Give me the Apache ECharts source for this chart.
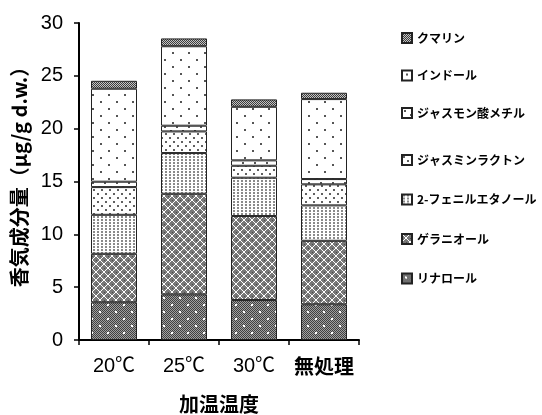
<!DOCTYPE html>
<html>
<head>
<meta charset="utf-8">
<script src="https://cdn.jsdelivr.net/npm/echarts@6/dist/echarts.min.js"></script>
<style>
html,body{margin:0;padding:0;background:#fff;}
#chart{width:542px;height:415px;}
</style>
</head>
<body>
<div id="chart"></div>
<script>
// ---- data ----
const categories = ['20℃', '25℃', '30℃', '無処理'];
const yTicks = [0, 5, 10, 15, 20, 25, 30];
const linalool        = [3.57, 4.32, 3.78, 3.38];   // リナロール
const geraniol        = [4.59, 9.52, 7.95, 6.01];   // ゲラニオール
const phenylethanol   = [3.69, 3.85, 3.63, 3.35];   // 2-フェニルエタノール
const jasmineLactone  = [2.62, 2.05, 1.13, 1.99];   // ジャスミンラクトン
const methylJasmonate = [0.51, 0.54, 0.51, 0.50];   // ジャスモン酸メチル
const indole          = [8.80, 7.52, 5.07, 7.57];   // インドール
const coumarin        = [0.75, 0.74, 0.70, 0.60];   // クマリン
const seriesNames = ['リナロール', 'ゲラニオール', '2-フェニルエタノール', 'ジャスミンラクトン', 'ジャスモン酸メチル', 'インドール', 'クマリン'];
const seriesData = [linalool, geraniol, phenylethanol, jasmineLactone, methylJasmonate, indole, coumarin];
const xTitle = '加温温度';
const yTitle = '香気成分量（μg/g d.w.）';

// ---- patterns ----
function tile(w, h, bg, draw) {
  const c = document.createElement('canvas');
  c.width = w; c.height = h;
  const ctx = c.getContext('2d');
  ctx.fillStyle = bg; ctx.fillRect(0, 0, w, h);
  draw(ctx);
  return { image: c, repeat: 'repeat' };
}
const patterns = [
  // linalool: dark dither with white dots
  tile(16, 14, '#a0a0a0', ctx => {
    ctx.fillStyle = '#404040';
    for (let y = 0; y < 14; y++) for (let x = 0; x < 16; x++) if ((x + y) % 2 === 0) ctx.fillRect(x, y, 1, 1);
    ctx.fillStyle = '#ffffff';
    ctx.fillRect(3, 3, 2, 2); ctx.fillRect(11, 10, 2, 2);
  }),
  // geraniol: crosshatch lattice
  tile(8, 8, '#787878', ctx => {
    ctx.fillStyle = '#ffffff';
    for (let i = 0; i < 8; i++) { ctx.fillRect(i, i, 1, 1); ctx.fillRect(7 - i, i, 1, 1); }
    ctx.fillStyle = '#4a4a4a';
    ctx.fillRect(0, 4, 1, 1); ctx.fillRect(4, 0, 1, 1);
  }),
  // 2-phenylethanol: fine stipple columns
  tile(4, 3, '#ffffff', ctx => {
    ctx.fillStyle = '#8a8a8a';
    ctx.fillRect(1, 0, 2, 2);
  }),
  // jasmine lactone: dense dots
  tile(8, 8, '#ffffff', ctx => {
    ctx.fillStyle = '#606060';
    ctx.fillRect(1, 1, 2, 2); ctx.fillRect(5, 5, 2, 2);
  }),
  // methyl jasmonate: sparse dots
  tile(12, 8, '#ffffff', ctx => {
    ctx.fillStyle = '#555555';
    ctx.fillRect(2, 2, 2, 2); ctx.fillRect(8, 6, 2, 2);
  }),
  // indole: sparse dots
  tile(16, 14, '#ffffff', ctx => {
    ctx.fillStyle = '#555555';
    ctx.fillRect(4, 3, 2, 2); ctx.fillRect(12, 10, 2, 2);
  }),
  // coumarin: dark dither
  tile(2, 2, '#c4c4c4', ctx => {
    ctx.fillStyle = '#3c3c3c';
    ctx.fillRect(0, 0, 1, 1); ctx.fillRect(1, 1, 1, 1);
  })
];

const chart = echarts.init(document.getElementById('chart'), null, { renderer: 'canvas' });
const jpFont = '"Noto Sans CJK JP", sans-serif';
const numFont = '"Liberation Sans", "Noto Sans CJK JP", sans-serif';

const legendText = { fontSize: 12, fontWeight: 'bold', fontFamily: jpFont, color: '#000', lineHeight: 16 };
const option = {
  animation: false,
  backgroundColor: '#fff',
  grid: { left: 79, right: 183, top: 23, bottom: 75, containLabel: false, outerBoundsMode: 'none' },
  legend: [
    {
      orient: 'vertical', left: 396, top: 25, itemWidth: 10, itemHeight: 10, itemGap: 21.5,
      icon: 'rect', textStyle: legendText,
      data: [seriesNames[6], seriesNames[5], seriesNames[4]]
    },
    {
      orient: 'vertical', left: 396, top: 147, itemWidth: 10, itemHeight: 10, itemGap: 23.5,
      icon: 'rect', textStyle: legendText,
      data: [seriesNames[3], seriesNames[2], seriesNames[1], seriesNames[0]]
    }
  ],
  xAxis: {
    type: 'category',
    data: categories,
    name: xTitle,
    nameLocation: 'middle',
    nameGap: 54,
    nameTextStyle: { fontSize: 20, fontWeight: 'bold', fontFamily: jpFont, color: '#000' },
    axisLine: { lineStyle: { color: '#000', width: 2 } },
    axisTick: { show: true, length: 5, lineStyle: { color: '#000', width: 1.5 } },
    axisLabel: {
      interval: 0, hideOverlap: false,
      margin: 16, fontSize: 20, fontFamily: numFont, color: '#000',
      formatter: v => /^[0-9]/.test(v) ? v : '{b|' + v + '}',
      rich: { b: { fontSize: 20, fontWeight: 'bold', fontFamily: jpFont, color: '#000' } }
    }
  },
  yAxis: {
    type: 'value',
    min: yTicks[0],
    max: yTicks[yTicks.length - 1],
    interval: yTicks[1] - yTicks[0],
    name: yTitle,
    nameLocation: 'middle',
    nameGap: 39,
    nameTextStyle: { fontSize: 20, fontWeight: 'bold', fontFamily: jpFont, color: '#000', padding: [0, 0, 0, 19] },
    axisLine: { show: true, lineStyle: { color: '#000', width: 2 } },
    axisTick: { show: true, length: 5, lineStyle: { color: '#000', width: 1.5 } },
    splitLine: { show: false },
    axisLabel: { margin: 16, fontSize: 20, fontFamily: numFont, color: '#000' }
  },
  series: seriesNames.map((name, i) => ({
    name: name,
    type: 'bar',
    stack: 'total',
    barWidth: 46,
    data: seriesData[i],
    itemStyle: { color: patterns[i], borderColor: '#222', borderWidth: 1 },
    emphasis: { disabled: true }
  }))
};
chart.setOption(option);
</script>
</body>
</html>
